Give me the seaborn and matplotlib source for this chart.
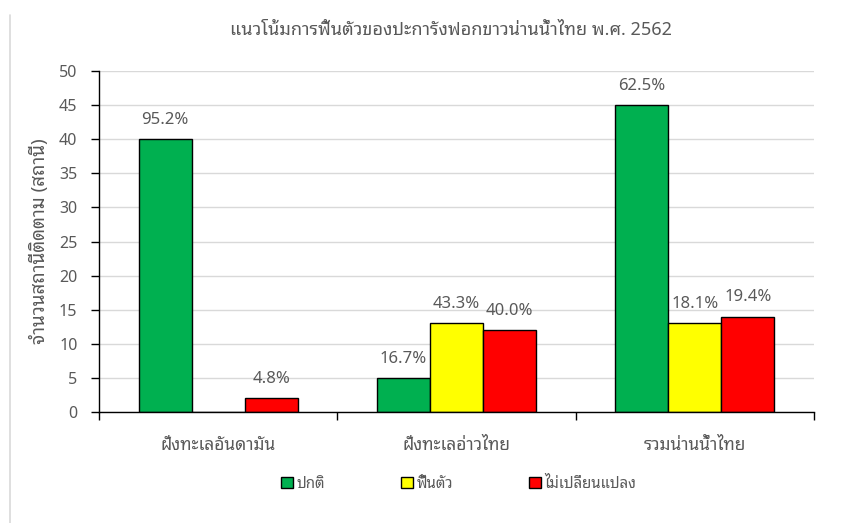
import matplotlib
matplotlib.use("Agg")
import matplotlib.pyplot as plt
from matplotlib.lines import Line2D
from matplotlib.patches import Patch
from matplotlib.ticker import FixedLocator, MultipleLocator
import seaborn as sns
import pandas as pd

# Coral bleaching recovery survey, Thai waters, 2019 (B.E. 2562)
regions = ["ฝั่งทะเลอันดามัน", "ฝั่งทะเลอ่าวไทย", "รวมน่านน้ำไทย"]
statuses = ["ปกติ", "ฟื้นตัว", "ไม่เปลี่ยนแปลง"]
normal = [40, 5, 45]
recovered = [0, 13, 13]
unchanged = [2, 12, 14]
status_colors = ["#00B050", "#FFFF00", "#FF0000"]

title = "แนวโน้มการฟื้นตัวของปะการังฟอกขาวน่านน้ำไทย พ.ศ. 2562"
ylabel = "จำนวนสถานีติดตาม (สถานี)"

rows = []
for status, vals in zip(statuses, [normal, recovered, unchanged]):
    for region, v in zip(regions, vals):
        rows.append({"region": region, "status": status, "stations": v})
df = pd.DataFrame(rows)
totals = df.groupby("region")["stations"].sum()

sns.set_theme(style="white")
plt.rcParams["font.family"] = ["Noto Sans Thai Looped", "Noto Sans", "DejaVu Sans"]
text_gray = "#595959"

fig = plt.figure(figsize=(8.48, 5.23), dpi=100)
ax = fig.add_axes([99 / 848, 1 - 412 / 523, (814 - 99) / 848, (412 - 71) / 523])

sns.barplot(data=df, x="region", y="stations", hue="status", order=regions,
            hue_order=statuses, palette=status_colors, width=0.667, gap=0,
            edgecolor="black", linewidth=1.0, saturation=1, legend=False, ax=ax)

# percentage of each region's stations above every bar
for container, status in zip(ax.containers, statuses):
    labels = []
    for region in regions:
        v = df[(df.region == region) & (df.status == status)]["stations"].iloc[0]
        labels.append("" if v == 0 else f"{100 * v / totals[region]:.1f}%")
    ax.bar_label(container, labels=labels, padding=8, fontsize=12, color=text_gray)

ax.set_ylim(0, 50)
ax.set_xlim(-0.5, 2.5)
ax.yaxis.set_major_locator(MultipleLocator(5))
ax.grid(axis="y", color="#D9D9D9", linewidth=1.0)
ax.set_axisbelow(True)
for side in ["top", "right"]:
    ax.spines[side].set_visible(False)
for side in ["left", "bottom"]:
    ax.spines[side].set_color("black")
    ax.spines[side].set_linewidth(1.0)

ax.tick_params(axis="y", which="major", direction="out", length=5.5, width=1,
               color="black", labelsize=11.5, labelcolor=text_gray, pad=10, left=True)
ax.tick_params(axis="x", which="major", length=0, labelsize=12.5, labelcolor=text_gray, pad=17)
ax.xaxis.set_minor_locator(FixedLocator([-0.5, 0.5, 1.5, 2.5]))
ax.tick_params(axis="x", which="minor", direction="out", length=5.5, width=1,
               color="black", bottom=True)
ax.set_xlabel("")
ax.set_ylabel(ylabel, fontsize=13.5, fontweight="semibold", color=text_gray, labelpad=7)

fig.text(0.532, 0.943, title, ha="center", va="center", fontsize=13, color=text_gray)

handles = [Patch(facecolor=c, edgecolor="black", linewidth=1.0) for c in status_colors]
fig.legend(handles, statuses, loc="center", bbox_to_anchor=(0.541, 1 - 484 / 523),
           ncol=3, frameon=False, fontsize=10.8, labelcolor=text_gray,
           handlelength=0.75, handleheight=0.75, handletextpad=0.25, columnspacing=5.1)

# chart area border along the left edge
fig.add_artist(Line2D([10 / 848, 10 / 848], [0, 1 - 15 / 523], transform=fig.transFigure,
                      color="#D9D9D9", linewidth=1.2))

fig.savefig("out.png", dpi=100)
